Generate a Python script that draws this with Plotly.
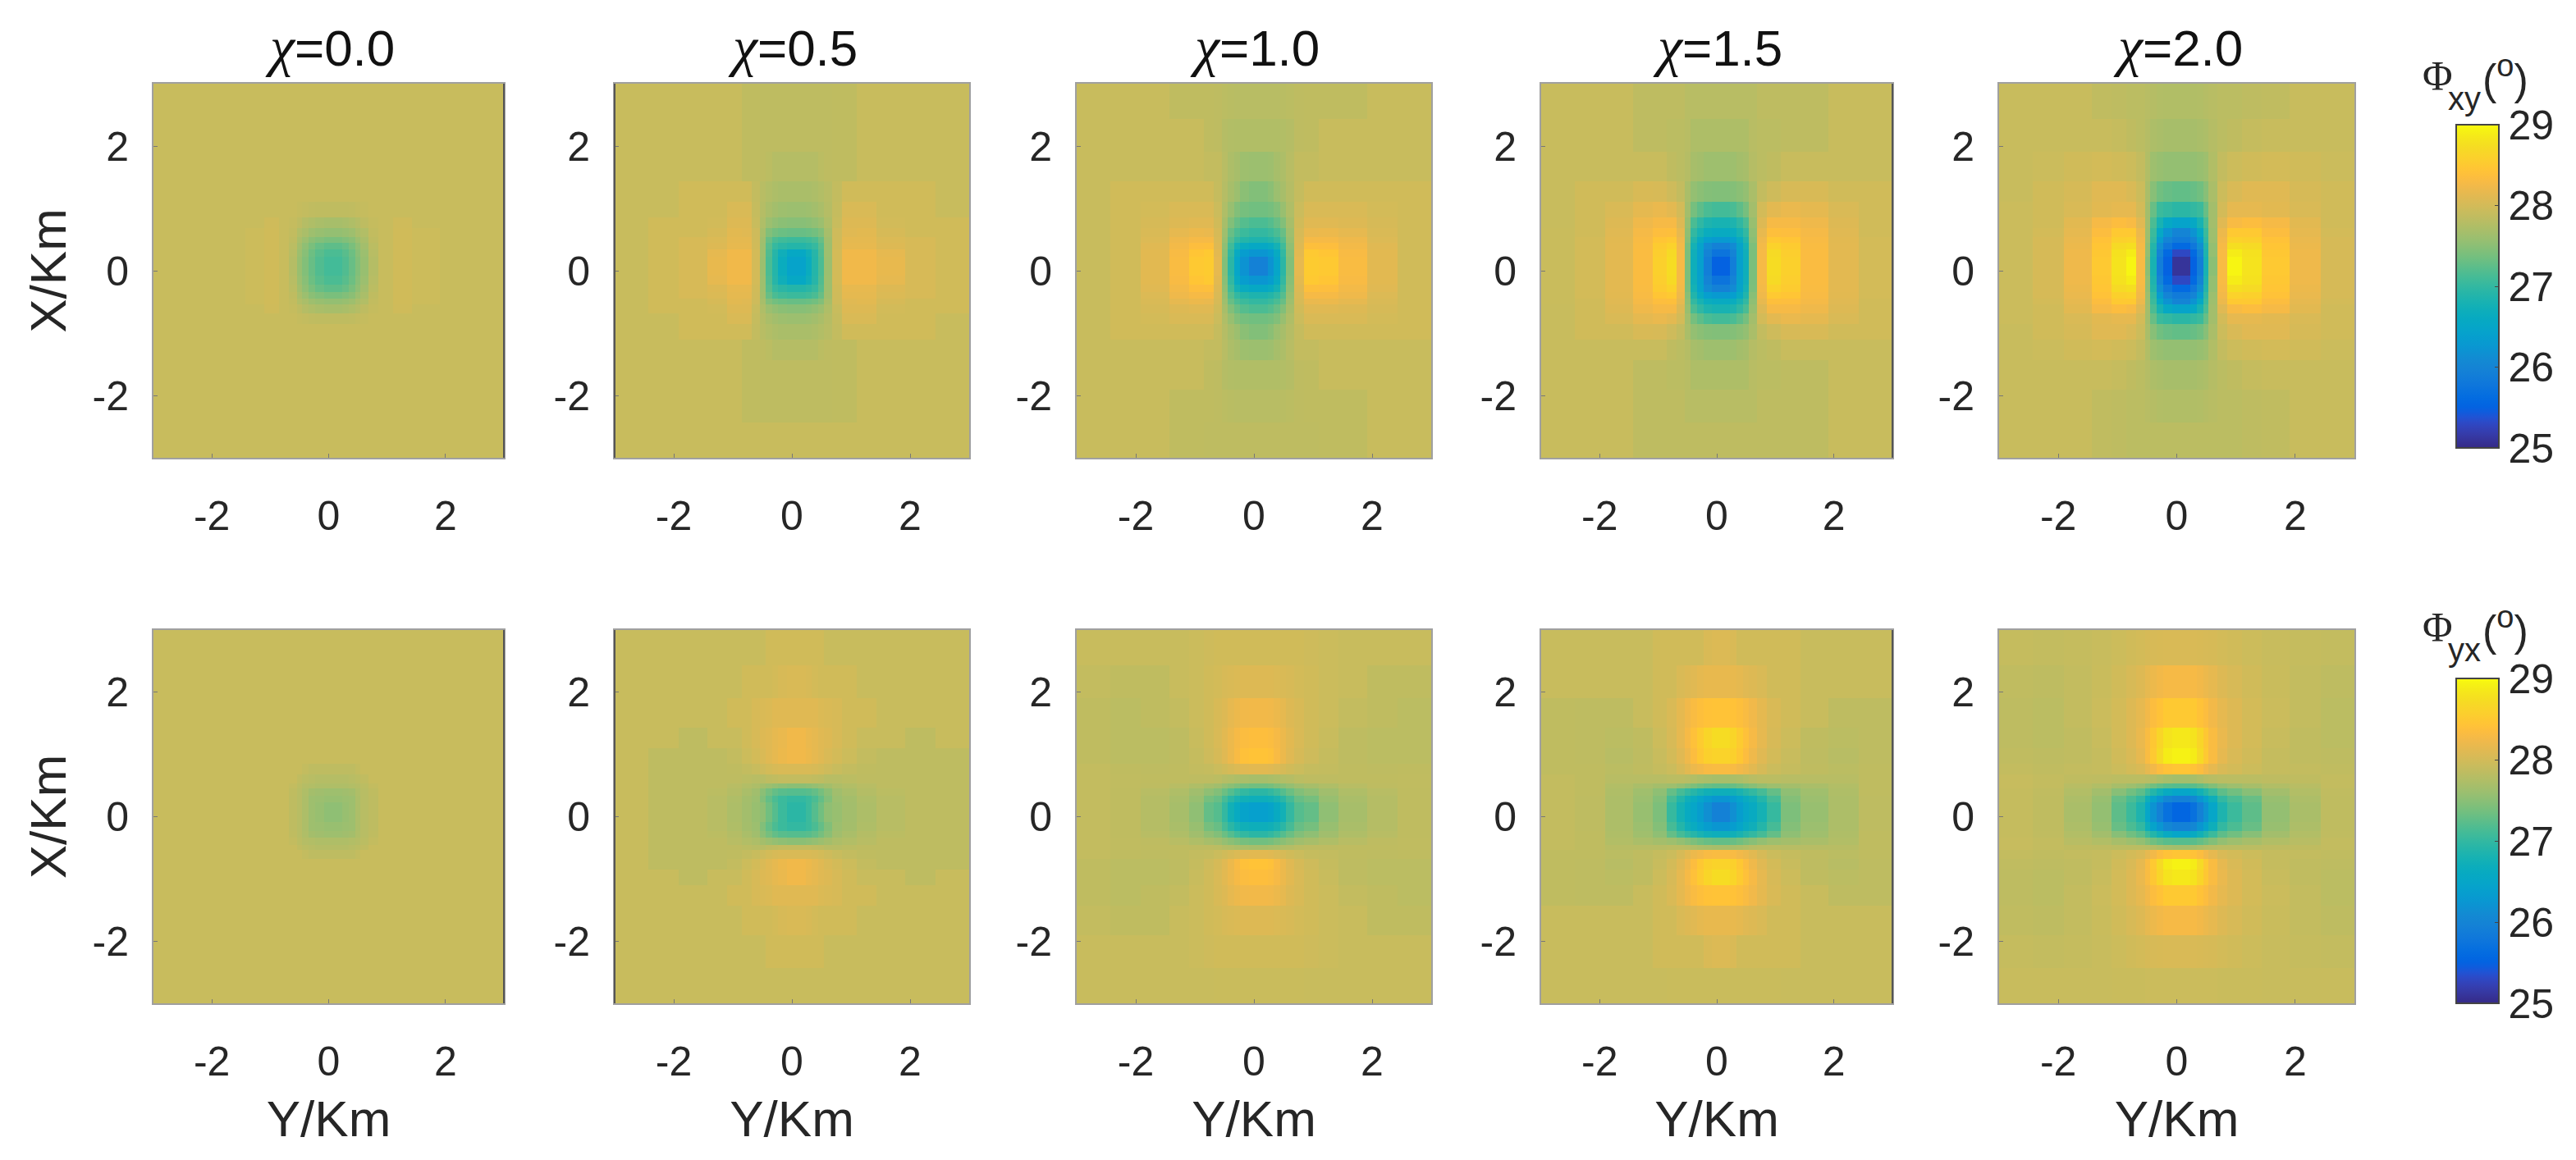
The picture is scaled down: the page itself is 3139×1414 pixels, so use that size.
import plotly.graph_objects as go
from plotly.subplots import make_subplots

W, H = 3139, 1414
PANEL_X = [(187, 614), (749, 1181), (1312, 1744), (1878, 2306), (2436, 2869)]
ROW_Y = [(102, 558), (768, 1223)]
CHI = ["0.0", "0.5", "1.0", "1.5", "2.0"]

# cell edges of the (non-uniform) grid, km
EDGES = [-3, -2.43, -1.91, -1.43, -1.1, -0.85, -0.68, -0.54, -0.45, -0.34, -0.23, -0.08,
         0.08, 0.23, 0.34, 0.45, 0.54, 0.68, 0.85, 1.1, 1.43, 1.91, 2.43, 3]
# which ring of the quadrant table each cell reads
RING = [11, 10, 9, 8, 7, 6, 5, 4, 3, 2, 1, 0, 0, 1, 2, 3, 4, 5, 6, 7, 8, 9, 10]

PARULA = [[0.2081,0.1663,0.5292],[0.2116,0.1898,0.5777],[0.2123,0.2138,0.6270],[0.2081,0.2386,0.6771],
[0.1959,0.2645,0.7279],[0.1707,0.2919,0.7792],[0.1253,0.3242,0.8303],[0.0591,0.3598,0.8683],
[0.0117,0.3875,0.8820],[0.0060,0.4086,0.8828],[0.0165,0.4266,0.8786],[0.0329,0.4430,0.8720],
[0.0498,0.4586,0.8641],[0.0629,0.4737,0.8554],[0.0723,0.4887,0.8467],[0.0779,0.5040,0.8384],
[0.0793,0.5200,0.8312],[0.0749,0.5375,0.8263],[0.0641,0.5570,0.8240],[0.0488,0.5772,0.8228],
[0.0343,0.5966,0.8199],[0.0265,0.6137,0.8135],[0.0239,0.6287,0.8038],[0.0231,0.6418,0.7913],
[0.0228,0.6535,0.7768],[0.0267,0.6642,0.7607],[0.0384,0.6743,0.7436],[0.0590,0.6838,0.7254],
[0.0843,0.6928,0.7062],[0.1133,0.7015,0.6859],[0.1453,0.7098,0.6646],[0.1801,0.7177,0.6424],
[0.2178,0.7250,0.6193],[0.2586,0.7317,0.5954],[0.3022,0.7376,0.5712],[0.3482,0.7424,0.5473],
[0.3953,0.7459,0.5244],[0.4420,0.7481,0.5033],[0.4871,0.7491,0.4840],[0.5300,0.7491,0.4661],
[0.5709,0.7485,0.4494],[0.6099,0.7473,0.4337],[0.6473,0.7456,0.4188],[0.6834,0.7435,0.4044],
[0.7184,0.7411,0.3905],[0.7525,0.7384,0.3768],[0.7858,0.7356,0.3633],[0.8185,0.7327,0.3498],
[0.8507,0.7299,0.3360],[0.8824,0.7274,0.3217],[0.9139,0.7258,0.3063],[0.9450,0.7261,0.2886],
[0.9739,0.7314,0.2666],[0.9938,0.7455,0.2403],[0.9990,0.7653,0.2164],[0.9955,0.7861,0.1967],
[0.9880,0.8066,0.1794],[0.9789,0.8271,0.1633],[0.9697,0.8481,0.1475],[0.9626,0.8705,0.1309],
[0.9589,0.8949,0.1132],[0.9598,0.9218,0.0948],[0.9661,0.9514,0.0755],[0.9763,0.9831,0.0538]]

# Phi_xy quadrants: row = ring along X, column = ring along Y
XY_00 = [
[27.10,27.18,27.30,27.45,27.58,27.78,27.92,27.98,27.95,27.92,27.92,27.92],
[27.15,27.22,27.33,27.48,27.60,27.80,27.92,27.98,27.95,27.92,27.92,27.92],
[27.25,27.30,27.40,27.52,27.65,27.82,27.92,27.98,27.95,27.92,27.92,27.92],
[27.40,27.45,27.50,27.60,27.70,27.85,27.92,27.98,27.95,27.92,27.92,27.92],
[27.55,27.58,27.62,27.70,27.76,27.87,27.92,27.98,27.95,27.92,27.92,27.92],
[27.68,27.70,27.74,27.78,27.84,27.90,27.92,27.97,27.92,27.92,27.92,27.92],
[27.85,27.85,27.86,27.88,27.90,27.92,27.92,27.92,27.92,27.92,27.92,27.92],
[27.92,27.92,27.92,27.92,27.92,27.92,27.92,27.92,27.92,27.92,27.92,27.92],
[27.92,27.92,27.92,27.92,27.92,27.92,27.92,27.92,27.92,27.92,27.92,27.92],
[27.92,27.92,27.92,27.92,27.92,27.92,27.92,27.92,27.92,27.92,27.92,27.92],
[27.92,27.92,27.92,27.92,27.92,27.92,27.92,27.92,27.92,27.92,27.92,27.92],
[27.92,27.92,27.92,27.92,27.92,27.92,27.92,27.92,27.92,27.92,27.92,27.92]]
XY_05 = [
[26.45,26.65,26.90,27.15,27.60,28.00,28.24,28.24,28.17,28.03,27.98,27.92],
[26.55,26.72,26.92,27.18,27.62,28.00,28.24,28.24,28.15,28.03,27.98,27.92],
[26.90,26.95,27.02,27.22,27.62,27.98,28.16,28.16,28.08,28.03,27.98,27.92],
[27.05,27.08,27.15,27.30,27.64,27.97,28.14,28.14,28.06,28.03,27.98,27.92],
[27.30,27.32,27.36,27.45,27.68,27.96,28.10,28.12,28.02,27.98,27.98,27.92],
[27.48,27.50,27.54,27.60,27.74,27.92,28.08,28.08,27.99,27.98,27.98,27.92],
[27.60,27.62,27.65,27.70,27.78,27.90,28.05,28.05,27.98,27.98,27.92,27.92],
[27.70,27.70,27.72,27.76,27.80,27.88,27.98,27.98,27.98,27.98,27.92,27.92],
[27.78,27.78,27.78,27.82,27.84,27.85,27.85,27.92,27.92,27.92,27.92,27.92],
[27.84,27.84,27.84,27.84,27.84,27.85,27.85,27.92,27.92,27.92,27.92,27.92],
[27.84,27.84,27.84,27.84,27.84,27.85,27.85,27.92,27.92,27.92,27.92,27.92],
[27.92,27.92,27.92,27.92,27.92,27.92,27.92,27.92,27.92,27.92,27.92,27.92]]
XY_10 = [
[25.95,26.20,26.50,26.95,27.45,28.15,28.52,28.50,28.32,28.12,27.98,27.92],
[26.25,26.35,26.60,27.00,27.48,28.12,28.50,28.46,28.30,28.12,27.98,27.92],
[26.55,26.62,26.78,27.08,27.52,28.08,28.38,28.36,28.26,28.10,27.98,27.92],
[26.85,26.90,27.00,27.20,27.58,28.05,28.28,28.28,28.22,28.07,27.98,27.92],
[27.00,27.05,27.15,27.30,27.62,28.02,28.18,28.20,28.15,28.05,27.98,27.92],
[27.15,27.20,27.30,27.45,27.68,27.98,28.10,28.10,28.08,28.02,27.98,27.92],
[27.35,27.38,27.45,27.58,27.74,27.94,28.05,28.05,28.05,28.00,27.98,27.92],
[27.45,27.50,27.60,27.68,27.78,27.90,27.98,27.98,27.98,27.98,27.98,27.92],
[27.60,27.62,27.68,27.72,27.80,27.88,27.88,27.92,27.92,27.92,27.92,27.92],
[27.75,27.75,27.75,27.76,27.78,27.84,27.85,27.92,27.92,27.92,27.92,27.92],
[27.80,27.80,27.80,27.81,27.82,27.84,27.85,27.85,27.85,27.92,27.92,27.92],
[27.84,27.84,27.84,27.84,27.84,27.84,27.84,27.85,27.85,27.92,27.92,27.92]]
XY_15 = [
[25.50,25.90,26.40,26.70,27.40,28.28,28.72,28.58,28.33,28.13,28.00,27.93],
[25.75,25.98,26.42,26.72,27.40,28.28,28.70,28.56,28.33,28.13,28.00,27.93],
[25.95,26.10,26.45,26.78,27.42,28.26,28.60,28.52,28.32,28.13,28.00,27.93],
[26.30,26.38,26.60,26.88,27.48,28.22,28.50,28.46,28.30,28.12,28.00,27.93],
[26.60,26.65,26.80,27.00,27.52,28.16,28.38,28.36,28.27,28.10,27.98,27.93],
[26.80,26.85,26.98,27.15,27.58,28.08,28.28,28.28,28.22,28.08,27.98,27.92],
[27.10,27.14,27.25,27.38,27.65,28.00,28.13,28.18,28.14,28.05,27.98,27.92],
[27.45,27.46,27.50,27.55,27.70,27.88,27.96,28.03,28.04,27.98,27.98,27.92],
[27.62,27.62,27.66,27.68,27.78,27.82,27.85,27.92,27.92,27.92,27.92,27.92],
[27.73,27.73,27.73,27.73,27.80,27.82,27.82,27.84,27.84,27.92,27.92,27.92],
[27.80,27.80,27.80,27.80,27.80,27.84,27.84,27.84,27.84,27.92,27.92,27.92],
[27.84,27.84,27.84,27.84,27.84,27.84,27.84,27.84,27.84,27.92,27.92,27.92]]
XY_20 = [
[25.10,25.50,25.90,26.80,27.50,28.30,28.95,28.80,28.50,28.22,28.02,27.94],
[25.30,25.60,26.00,26.85,27.55,28.30,28.88,28.78,28.48,28.22,28.02,27.94],
[25.60,25.80,26.15,26.90,27.55,28.28,28.75,28.70,28.45,28.20,28.02,27.94],
[25.85,26.00,26.35,27.00,27.60,28.25,28.60,28.58,28.42,28.18,28.02,27.94],
[26.00,26.20,26.55,27.05,27.62,28.20,28.50,28.50,28.35,28.15,28.00,27.94],
[26.45,26.55,26.80,27.15,27.65,28.10,28.30,28.35,28.28,28.12,27.98,27.94],
[26.95,27.00,27.05,27.30,27.65,28.00,28.15,28.15,28.12,28.05,27.98,27.94],
[27.27,27.30,27.35,27.48,27.70,27.95,28.05,28.10,28.10,28.02,27.98,27.92],
[27.55,27.55,27.58,27.62,27.75,27.88,27.95,27.98,28.00,27.98,27.94,27.92],
[27.68,27.68,27.70,27.72,27.78,27.82,27.85,27.90,27.92,27.92,27.92,27.92],
[27.75,27.75,27.76,27.78,27.80,27.82,27.82,27.84,27.86,27.92,27.92,27.92],
[27.82,27.82,27.82,27.82,27.82,27.82,27.82,27.84,27.86,27.92,27.92,27.92]]

# Phi_yx quadrants
YX_00 = [
[27.52,27.58,27.62,27.72,27.80,27.84,27.92,27.92,27.92,27.92,27.92,27.92],
[27.58,27.60,27.62,27.72,27.80,27.84,27.92,27.92,27.92,27.92,27.92,27.92],
[27.62,27.64,27.66,27.74,27.80,27.85,27.92,27.92,27.92,27.92,27.92,27.92],
[27.74,27.74,27.76,27.78,27.82,27.88,27.92,27.92,27.92,27.92,27.92,27.92],
[27.78,27.78,27.80,27.82,27.86,27.92,27.92,27.92,27.92,27.92,27.92,27.92],
[27.84,27.84,27.84,27.88,27.92,27.92,27.92,27.92,27.92,27.92,27.92,27.92],
[27.92,27.92,27.92,27.92,27.92,27.92,27.92,27.92,27.92,27.92,27.92,27.92],
[27.92,27.92,27.92,27.92,27.92,27.92,27.92,27.92,27.92,27.92,27.92,27.92],
[27.92,27.92,27.92,27.92,27.92,27.92,27.92,27.92,27.92,27.92,27.92,27.92],
[27.92,27.92,27.92,27.92,27.92,27.92,27.92,27.92,27.92,27.92,27.92,27.92],
[27.92,27.92,27.92,27.92,27.92,27.92,27.92,27.92,27.92,27.92,27.92,27.92],
[27.92,27.92,27.92,27.92,27.92,27.92,27.92,27.92,27.92,27.92,27.92,27.92]]
YX_05 = [
[26.95,27.05,27.20,27.35,27.52,27.58,27.65,27.72,27.80,27.84,27.84,27.92],
[27.00,27.05,27.15,27.28,27.45,27.60,27.66,27.74,27.80,27.84,27.84,27.92],
[27.20,27.22,27.28,27.38,27.50,27.64,27.70,27.77,27.82,27.84,27.84,27.92],
[27.50,27.52,27.56,27.60,27.66,27.72,27.76,27.80,27.84,27.84,27.84,27.92],
[27.88,27.88,27.86,27.84,27.80,27.80,27.82,27.84,27.84,27.84,27.84,27.92],
[28.05,28.05,28.03,28.00,27.96,27.92,27.88,27.85,27.84,27.84,27.84,27.92],
[28.24,28.20,28.15,28.10,28.05,28.00,27.95,27.88,27.84,27.84,27.84,27.92],
[28.24,28.18,28.15,28.10,28.08,28.03,27.98,27.92,27.92,27.84,27.92,27.92],
[28.10,28.10,28.10,28.06,28.05,28.03,27.98,27.98,27.92,27.92,27.92,27.92],
[28.05,28.03,28.00,27.98,27.98,27.98,27.98,27.92,27.92,27.92,27.92,27.92],
[27.98,27.98,27.98,27.98,27.92,27.92,27.92,27.92,27.92,27.92,27.92,27.92],
[27.92,27.92,27.92,27.92,27.92,27.92,27.92,27.92,27.92,27.92,27.92,27.92]]
YX_10 = [
[26.40,26.45,26.60,26.75,27.00,27.20,27.28,27.53,27.68,27.78,27.85,27.88],
[26.70,26.74,26.82,26.95,27.12,27.30,27.38,27.58,27.70,27.78,27.85,27.88],
[26.95,27.00,27.08,27.20,27.32,27.45,27.52,27.64,27.74,27.80,27.85,27.88],
[27.35,27.38,27.44,27.50,27.56,27.64,27.68,27.74,27.80,27.84,27.86,27.88],
[27.68,27.70,27.72,27.76,27.78,27.82,27.84,27.84,27.85,27.85,27.86,27.88],
[28.12,28.10,28.06,28.02,27.98,27.94,27.90,27.88,27.85,27.84,27.85,27.88],
[28.43,28.40,28.30,28.20,28.10,28.02,27.96,27.90,27.84,27.82,27.82,27.85],
[28.37,28.34,28.28,28.20,28.12,28.05,27.98,27.92,27.84,27.82,27.82,27.85],
[28.25,28.24,28.20,28.15,28.08,28.04,27.98,27.94,27.88,27.85,27.82,27.85],
[28.08,28.08,28.06,28.05,28.03,28.00,27.98,27.94,27.92,27.85,27.85,27.88],
[27.98,27.98,27.98,27.98,27.98,27.98,27.96,27.94,27.92,27.92,27.92,27.92],
[27.93,27.93,27.93,27.93,27.93,27.93,27.92,27.92,27.92,27.92,27.92,27.92]]
YX_15 = [
[25.95,26.15,26.35,26.50,26.60,26.78,27.02,27.42,27.58,27.72,27.84,27.88],
[26.25,26.35,26.48,26.62,26.72,26.90,27.12,27.46,27.60,27.72,27.84,27.88],
[26.70,26.74,26.82,26.92,27.00,27.12,27.28,27.52,27.63,27.74,27.85,27.88],
[27.27,27.30,27.35,27.42,27.48,27.55,27.62,27.66,27.70,27.76,27.85,27.88],
[27.68,27.70,27.72,27.76,27.80,27.82,27.82,27.80,27.80,27.80,27.85,27.88],
[28.32,28.30,28.25,28.20,28.12,28.02,27.94,27.90,27.85,27.82,27.85,27.85],
[28.62,28.58,28.48,28.35,28.22,28.10,28.00,27.92,27.84,27.80,27.84,27.85],
[28.72,28.65,28.52,28.40,28.28,28.15,28.03,27.95,27.85,27.82,27.84,27.85],
[28.43,28.42,28.38,28.32,28.24,28.14,28.05,27.98,27.92,27.84,27.84,27.85],
[28.17,28.17,28.14,28.10,28.08,28.05,27.98,27.98,27.92,27.92,27.92,27.92],
[28.07,28.05,27.98,27.98,27.98,27.98,27.98,27.98,27.92,27.92,27.92,27.92],
[27.93,27.93,27.93,27.93,27.93,27.93,27.93,27.92,27.92,27.92,27.92,27.92]]
YX_20 = [
[25.55,25.70,25.95,26.20,26.50,26.85,27.05,27.25,27.55,27.70,27.85,27.90],
[25.95,26.05,26.25,26.45,26.70,27.00,27.15,27.30,27.58,27.72,27.85,27.90],
[26.50,26.60,26.75,26.90,27.05,27.25,27.35,27.48,27.65,27.76,27.86,27.90],
[27.20,27.22,27.28,27.35,27.45,27.55,27.62,27.68,27.75,27.80,27.88,27.91],
[27.65,27.68,27.72,27.78,27.80,27.82,27.82,27.82,27.84,27.85,27.88,27.91],
[28.45,28.42,28.35,28.25,28.15,28.05,28.00,27.95,27.90,27.88,27.86,27.88],
[28.93,28.88,28.70,28.50,28.32,28.15,28.05,27.98,27.90,27.86,27.84,27.86],
[28.85,28.80,28.65,28.48,28.32,28.18,28.08,28.00,27.92,27.86,27.82,27.84],
[28.50,28.50,28.42,28.35,28.25,28.15,28.08,28.00,27.94,27.88,27.82,27.84],
[28.28,28.28,28.25,28.20,28.15,28.08,28.03,27.98,27.93,27.88,27.84,27.86],
[28.05,28.05,28.04,28.03,28.02,28.00,27.98,27.95,27.92,27.90,27.88,27.90],
[27.94,27.94,27.94,27.94,27.94,27.93,27.93,27.93,27.92,27.92,27.92,27.92]]

QUADS = [[XY_00, XY_05, XY_10, XY_15, XY_20], [YX_00, YX_05, YX_10, YX_15, YX_20]]

TICK_VALS = [-2, 0, 2]
CB_TICKS = [25, 26, 27, 28, 29]
TXT = "#262626"
SANS = "Liberation Sans"
FS_TICK, FS_LAB, FS_TITLE = 50, 62, 62
# panels whose frame shows a darker edge in the picture: (row, col) -> side
DARK_EDGE = {(0, 0): 1, (0, 1): 0, (0, 3): 1, (1, 0): 1, (1, 1): 0, (1, 3): 1}

scale = [[i / (len(PARULA) - 1), "rgb(%d,%d,%d)" % tuple(round(c * 255) for c in rgb)] for i, rgb in enumerate(PARULA)]

fig = make_subplots(rows=2, cols=5)
for r, row_q in enumerate(QUADS):
    for c, q in enumerate(row_q):
        z = [[q[i][j] for j in RING] for i in RING]
        fig.add_trace(go.Heatmap(x=EDGES, y=EDGES, z=z, coloraxis="coloraxis" if r == 0 else "coloraxis2",
                                 hoverinfo="skip"), row=r + 1, col=c + 1)
        ax = (r * 5 + c + 1)
        xname = "xaxis" if ax == 1 else f"xaxis{ax}"
        yname = "yaxis" if ax == 1 else f"yaxis{ax}"
        common = dict(range=[-3, 3], tickvals=TICK_VALS, ticktext=["-2", "0", "2"], ticks="inside", ticklen=5, tickwidth=1,
                      tickcolor="#777777", showgrid=False, zeroline=False, showline=True, mirror=True,
                      linecolor="#a0a0a0", linewidth=2, tickfont=dict(family=SANS, size=FS_TICK, color=TXT))
        x0, x1 = PANEL_X[c]
        y0, y1 = ROW_Y[r]
        fig.layout[xname].update(domain=[x0 / W, x1 / W], ticklabelstandoff=26, **common)
        fig.layout[yname].update(domain=[1 - y1 / H, 1 - y0 / H], ticklabelstandoff=18, **common)
        if r == 1:
            fig.layout[xname].title = dict(text="Y/Km", font=dict(family=SANS, size=FS_LAB, color=TXT), standoff=21)
        if c == 0:
            fig.layout[yname].title = dict(text="X/Km", font=dict(family=SANS, size=FS_LAB, color=TXT), standoff=12)
        if (r, c) in DARK_EDGE:
            sx = "x domain" if ax == 1 else f"x{ax} domain"
            sy = "y domain" if ax == 1 else f"y{ax} domain"
            side = DARK_EDGE[(r, c)]
            fig.add_shape(type="line", xref=sx, yref=sy, x0=side, x1=side, y0=0, y1=1, line=dict(color="#555555", width=2))

for c, chi in enumerate(CHI):
    x0, x1 = PANEL_X[c]
    fig.add_annotation(xref="paper", yref="paper", x=(x0 + x1 + 2) / 2 / W, y=1 - 57 / H, xanchor="center", yanchor="middle",
                       showarrow=False, font=dict(family=SANS, size=FS_TITLE, color="#111111"),
                       text=f'<span style="font-family:\'Liberation Serif\';font-style:italic;font-size:68px">χ</span>={chi}')


def cbar(y0, y1):
    return dict(x=2993 / W, xanchor="left", y=1 - y0 / H, yanchor="top", len=y1 - y0, lenmode="pixels", thickness=52,
                thicknessmode="pixels", xpad=0, ypad=0, outlinecolor="#444444", outlinewidth=2, ticks="inside", ticklen=6,
                tickcolor="#444444", tickvals=CB_TICKS, tickprefix="\u00a0", tickfont=dict(family=SANS, size=FS_TICK, color=TXT))


fig.update_layout(
    width=W, height=H, margin=dict(l=0, r=0, t=0, b=0), paper_bgcolor="white", plot_bgcolor="white", showlegend=False,
    coloraxis=dict(colorscale=scale, cmin=25, cmax=29, colorbar=cbar(152, 546)),
    coloraxis2=dict(colorscale=scale, cmin=25, cmax=29, colorbar=cbar(827, 1223)),
)


def label(text, xc, yc, size, family=SANS):
    fig.add_annotation(xref="paper", yref="paper", x=xc / W, y=1 - yc / H, xanchor="center", yanchor="middle", showarrow=False,
                       font=dict(family=family, size=size, color=TXT), text=text)


for sub, dy in (("xy", 0), ("yx", 5 + 667)):
    label("Φ", 2970, 92 + dy, 50, "Liberation Serif")
    label(sub, 3003, 120 + dy, 40)
    label('(<sup><span style="font-size:38px">o</span></sup>)', 3053, 92 + dy, 52)

fig.write_html("out.html", post_script="document.body.style.margin='0';", config={"displayModeBar": False})
